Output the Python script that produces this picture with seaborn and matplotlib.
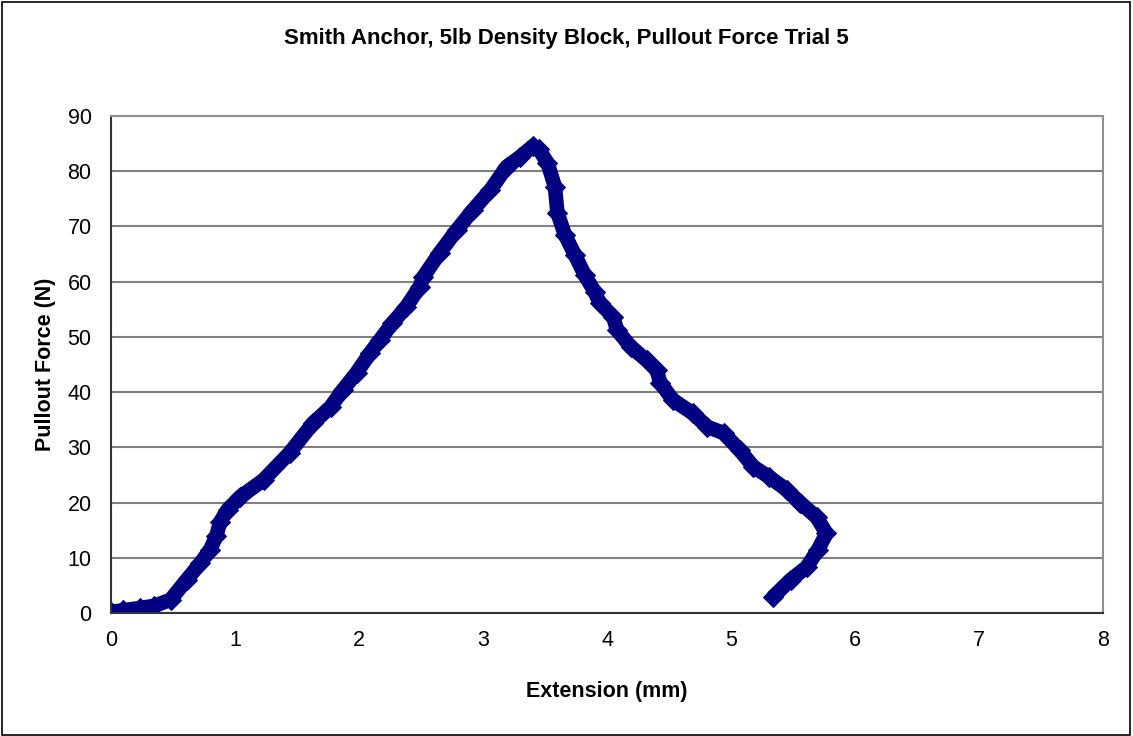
import matplotlib
matplotlib.use("Agg")
import matplotlib.pyplot as plt
import seaborn as sns
import pandas as pd
from matplotlib.patches import Rectangle

# points read along the centre of the trace
extension = [0.0, 0.1, 0.23, 0.35, 0.48, 0.61, 0.72, 0.80, 0.85, 0.88, 0.94,
             1.04, 1.23, 1.44, 1.63, 1.77, 1.87, 1.98, 2.09, 2.17, 2.27, 2.38,
             2.49, 2.52, 2.65, 2.79, 2.92, 3.06, 3.19, 3.30, 3.40, 3.45, 3.52,
             3.58, 3.60, 3.66, 3.74, 3.82, 3.90, 3.94, 4.05, 4.08, 4.19, 4.32,
             4.40, 4.43, 4.53, 4.69, 4.81, 4.94, 5.07, 5.18, 5.31, 5.45, 5.56,
             5.69, 5.77, 5.77, 5.70, 5.61, 5.48, 5.34]
force = [0.2, 0.5, 0.9, 1.3, 2.4, 6.0, 9.0, 11.5, 14.0, 16.5, 18.7,
         21.0, 24.1, 29.0, 34.4, 37.3, 40.4, 43.5, 47.1, 49.5, 52.5, 55.4,
         59.1, 60.9, 65.2, 69.4, 73.0, 76.6, 80.8, 82.6, 84.5, 84.0, 81.5,
         77.2, 72.5, 68.5, 64.9, 61.2, 58.2, 56.2, 53.6, 51.3, 48.2, 45.8,
         44.0, 41.7, 38.6, 36.2, 33.7, 32.6, 29.5, 26.5, 24.6, 22.3, 19.9,
         17.4, 15.0, 13.8, 11.4, 8.3, 6.0, 2.9]

df = pd.DataFrame({"Extension (mm)": extension, "Pullout Force (N)": force})

sns.set_style("white")
plt.rcParams["font.family"] = ["Liberation Sans", "DejaVu Sans"]
plt.rcParams["text.color"] = "black"
plt.rcParams["axes.labelcolor"] = "black"

fig = plt.figure(figsize=(11.33, 7.36), dpi=100)
ax = fig.add_axes([0.098, 0.1671, 0.8755, 0.6753])

sns.lineplot(data=df, x="Extension (mm)", y="Pullout Force (N)", sort=False,
             color="#000080", linewidth=10.5, marker="D", markersize=10,
             markeredgecolor="#000080", solid_joinstyle="round",
             solid_capstyle="round", ax=ax)

ax.set_xlim(0, 8)
ax.set_ylim(0, 90)
ax.set_xticks(range(0, 9))
ax.set_yticks(range(0, 91, 10))
ax.yaxis.grid(True, color="#808080", linewidth=1.5)
ax.set_axisbelow(True)
for side in ["top", "right"]:
    ax.spines[side].set_color("#909090")
    ax.spines[side].set_linewidth(1.5)
for side in ["left", "bottom"]:
    ax.spines[side].set_color("#333333")
    ax.spines[side].set_linewidth(1.5)
ax.tick_params(axis="both", direction="out", length=6, width=1.2,
               color="#333333", labelcolor="black", labelsize=15.5, pad=6)
ax.tick_params(axis="y", pad=8)

ax.set_xlabel("Extension (mm)", fontsize=15.5, fontweight="bold", labelpad=22)
ax.set_ylabel("Pullout Force (N)", fontsize=15.5, fontweight="bold", labelpad=8)
fig.text(0.5, 0.948, "Smith Anchor, 5lb Density Block, Pullout Force Trial 5",
         ha="center", va="center", fontsize=16, fontweight="bold")

fig.patches.append(Rectangle((0.002, 0.002), 0.995, 0.995, transform=fig.transFigure,
                             fill=False, edgecolor="black", linewidth=1.2))

fig.savefig("out.png", dpi=100)
